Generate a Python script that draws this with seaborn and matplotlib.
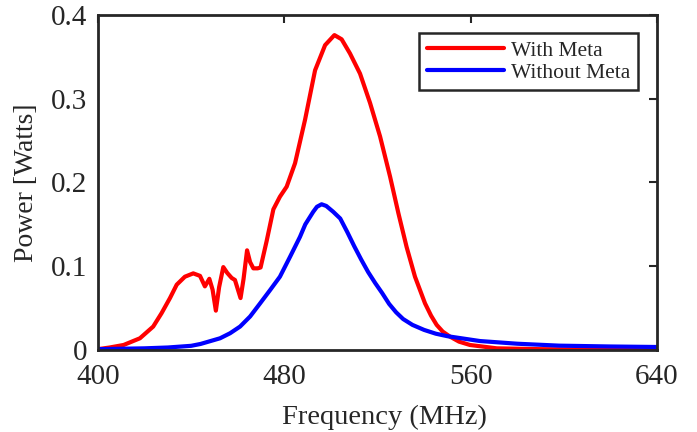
import matplotlib
matplotlib.use("Agg")
import matplotlib.pyplot as plt
import seaborn as sns
import pandas as pd
from matplotlib.ticker import FixedLocator, FuncFormatter

# ---- data ----
red_freq = [400, 405, 411, 418, 423.7, 427.3, 430.9, 433.8, 437.3, 440.9, 443.8,
            445.9, 447.8, 449.2, 450.6, 452.0, 453.8, 455.5, 457.4, 458.8, 461.2,
            462.5, 464.0, 465.3, 466.7, 468.5, 469.8, 472.4, 475.3, 478.1, 481.0,
            484.6, 488.9, 493.2, 497.5, 501.5, 504.6, 508.2, 512.5, 516.8, 521.1,
            525.4, 529.0, 532.5, 536.1, 540.4, 543.0, 545.4, 548.0, 551.1, 555.0,
            559.7, 571.2, 590, 610, 640]
red_power = [0.001, 0.003, 0.006, 0.014, 0.028, 0.044, 0.062, 0.078, 0.0875, 0.0915,
             0.0885, 0.076, 0.085, 0.072, 0.047, 0.075, 0.099, 0.092, 0.086, 0.0836,
             0.062, 0.085, 0.119, 0.105, 0.0975, 0.0975, 0.0985, 0.13, 0.168, 0.183,
             0.195, 0.223, 0.275, 0.334, 0.364, 0.376, 0.371, 0.354, 0.330, 0.295,
             0.255, 0.207, 0.163, 0.123, 0.0875, 0.0557, 0.041, 0.030, 0.022, 0.016,
             0.010, 0.006, 0.002, 0.001, 0.0005, 0.0003]

blue_freq = [400, 420, 430, 440, 444, 452.4, 456.7, 461, 465.3, 469.6, 473.9, 478.1,
             482.4, 486.7, 489, 492.4, 494, 496, 498, 501, 504, 507, 510, 513, 516,
             519, 522, 525, 528, 531, 535, 540, 545, 550, 564, 580, 598, 620, 640]
blue_power = [0.001, 0.002, 0.003, 0.005, 0.0072, 0.014, 0.020, 0.028, 0.040, 0.0557,
              0.0716, 0.0875, 0.111, 0.135, 0.150, 0.165, 0.171, 0.174, 0.172, 0.165,
              0.157, 0.141, 0.124, 0.108, 0.093, 0.080, 0.068, 0.055, 0.045, 0.037,
              0.030, 0.024, 0.0195, 0.0165, 0.0107, 0.0075, 0.0052, 0.0042, 0.0036]

series_names = ["With Meta", "Without Meta"]
series_colors = ["#ff0000", "#0000ff"]
x_ticks = [400, 480, 560, 640]
y_ticks = [0, 0.1, 0.2, 0.3, 0.4]

# ---- plotting ----
sns.set_style("white")
plt.rcParams["font.family"] = ["Liberation Serif", "DejaVu Serif"]

fig = plt.figure(figsize=(6.97, 4.32), dpi=100)
ax = fig.add_axes([0.1406, 0.1898, 0.802, 0.7755])

df_red = pd.DataFrame({"freq": red_freq, "power": red_power})
df_blue = pd.DataFrame({"freq": blue_freq, "power": blue_power})

sns.lineplot(data=df_red, x="freq", y="power", ax=ax, color=series_colors[0],
             linewidth=3.0, label=series_names[0], sort=False)
sns.lineplot(data=df_blue, x="freq", y="power", ax=ax, color=series_colors[1],
             linewidth=3.0, label=series_names[1], sort=False)

ax.set_xlim(400, 640)
ax.set_ylim(0, 0.4)
ax.xaxis.set_major_locator(FixedLocator(x_ticks))
ax.yaxis.set_major_locator(FixedLocator(y_ticks))
ax.yaxis.set_major_formatter(FuncFormatter(lambda v, p: "%g" % v))
ax.xaxis.set_major_formatter(FuncFormatter(lambda v, p: "%g" % v))

ax.set_xlabel("Frequency (MHz)", fontsize=20.5, color="#262626")
ax.set_ylabel("Power [Watts]", fontsize=20, color="#262626")
ax.xaxis.set_label_coords(0.512, -0.165)
ax.yaxis.set_label_coords(-0.106, 0.5)

for s in ax.spines.values():
    s.set_visible(True)
    s.set_linewidth(2.0)
    s.set_color("#262626")

ax.tick_params(axis="both", which="major", direction="in", length=6, width=1.5,
               top=True, right=True, labelsize=21, colors="#262626")
ax.tick_params(axis="y", pad=8)
ax.tick_params(axis="x", pad=10)

leg = ax.legend(loc="upper right", bbox_to_anchor=(0.966, 0.946), borderaxespad=0,
                fontsize=15.5, frameon=True, fancybox=False, handlelength=3.6,
                handletextpad=0.33, labelspacing=0.1, borderpad=0.35)
leg.get_frame().set_edgecolor("#262626")
leg.get_frame().set_linewidth(1.8)
leg.get_frame().set_alpha(1)

fig.savefig("out.png", dpi=100)
